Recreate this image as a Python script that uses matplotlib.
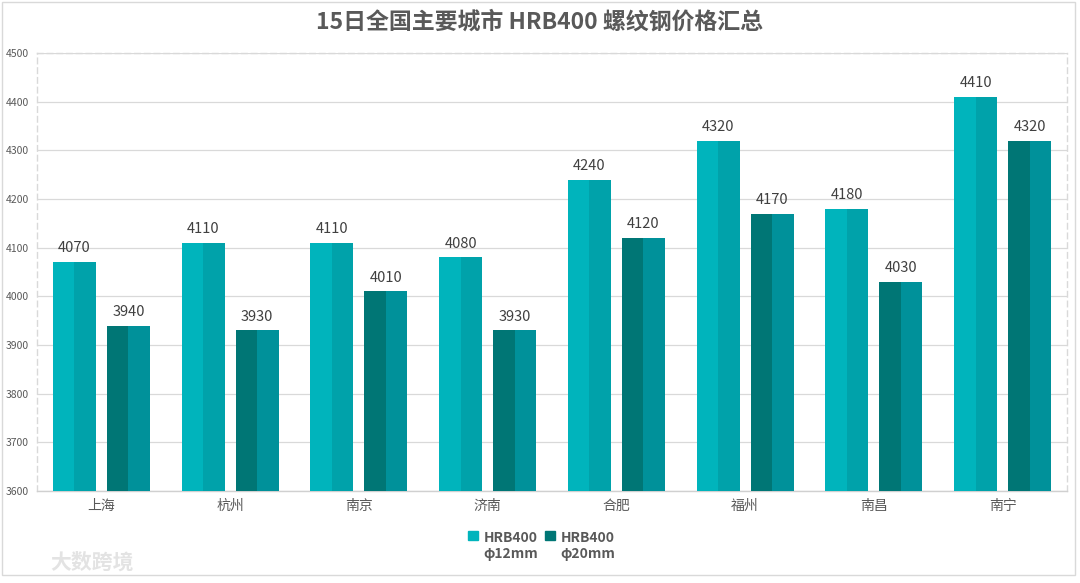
import numpy as np
import matplotlib.pyplot as plt
from matplotlib.patches import Rectangle, Patch

plt.rcParams['font.family'] = ['Noto Sans CJK SC', 'DejaVu Sans']

# data
cities = ['上海', '杭州', '南京', '济南', '合肥', '福州', '南昌', '南宁']
price_12mm = [4070, 4110, 4110, 4080, 4240, 4320, 4180, 4410]
price_20mm = [3940, 3930, 4010, 3930, 4120, 4170, 4030, 4320]
series_names = ['HRB400\nφ12mm', 'HRB400\nφ20mm']

# two tones per bar: (left half, right half)
colors_12 = ('#00B4BC', '#00A2AA')
colors_20 = ('#007675', '#00919A')
text_grey = '#595959'

fig = plt.figure(figsize=(10.8, 5.83), dpi=100)
ax = fig.add_axes([37 / 1080, 92 / 583, 1030 / 1080, 438 / 583])

x = np.arange(len(cities))
w = 0.335
offs = 0.21


def two_tone(xc, vals, cols):
    ax.bar(xc - w / 2, np.array(vals) - 3600, width=w / 2, bottom=3600,
           align='edge', color=cols[0], zorder=3)
    ax.bar(xc, np.array(vals) - 3600, width=w / 2, bottom=3600,
           align='edge', color=cols[1], zorder=3)
    for xi, v in zip(xc, vals):
        ax.text(xi, v + 14, str(v), ha='center', va='bottom',
                fontsize=10.5, color='#404040')


two_tone(x - offs, price_12mm, colors_12)
two_tone(x + offs, price_20mm, colors_20)

ax.set_xlim(-0.5, len(cities) - 0.5)
ax.set_ylim(3600, 4500)
ax.set_yticks(np.arange(3600, 4501, 100))
ax.set_xticks(x)
ax.set_xticklabels(cities, fontsize=10, color=text_grey)
ax.tick_params(axis='y', labelsize=7.5, colors=text_grey, length=0, pad=6)
ax.tick_params(axis='x', length=0, pad=6)
ax.grid(axis='y', color='#D9D9D9', linewidth=0.9, zorder=0)

for side in ['top', 'left', 'right']:
    ax.spines[side].set_linestyle((0, (4, 3)))
    ax.spines[side].set_color('#D9D9D9')
    ax.spines[side].set_linewidth(1.0)
ax.spines['bottom'].set_color('#D0D0D0')
ax.spines['bottom'].set_linewidth(1.0)

fig.text(0.5, 1 - 22 / 583, '15日全国主要城市 HRB400 螺纹钢价格汇总',
         ha='center', va='center', fontsize=16.5, fontweight='bold',
         color=text_grey)

handles = [Patch(color=colors_12[0]), Patch(color=colors_20[0])]
leg = fig.legend(handles, series_names, loc='center', ncol=2,
                 bbox_to_anchor=(542 / 1080, 1 - 546 / 583), frameon=False,
                 prop={'size': 10, 'weight': 'bold'}, labelcolor=text_grey,
                 handlelength=0.7, handleheight=0.7, handletextpad=0.4,
                 columnspacing=0.5)
# push the squares up to the first text line, as in the reference
for h in leg.legend_handles:
    h.set_y(h.get_y() + 8)

# watermark
fig.text(50 / 1080, 1 - 562 / 583, '大数跨境', ha='left', va='center',
         fontsize=15, color='#E3E3E3', fontweight='bold')

# outer frame
fig.patches.append(Rectangle((2 / 1080, 8 / 583), 1073 / 1080, 573 / 583,
                             transform=fig.transFigure, fill=False,
                             edgecolor='#D9D9D9', linewidth=1.0))

fig.savefig('out.png', dpi=100)
